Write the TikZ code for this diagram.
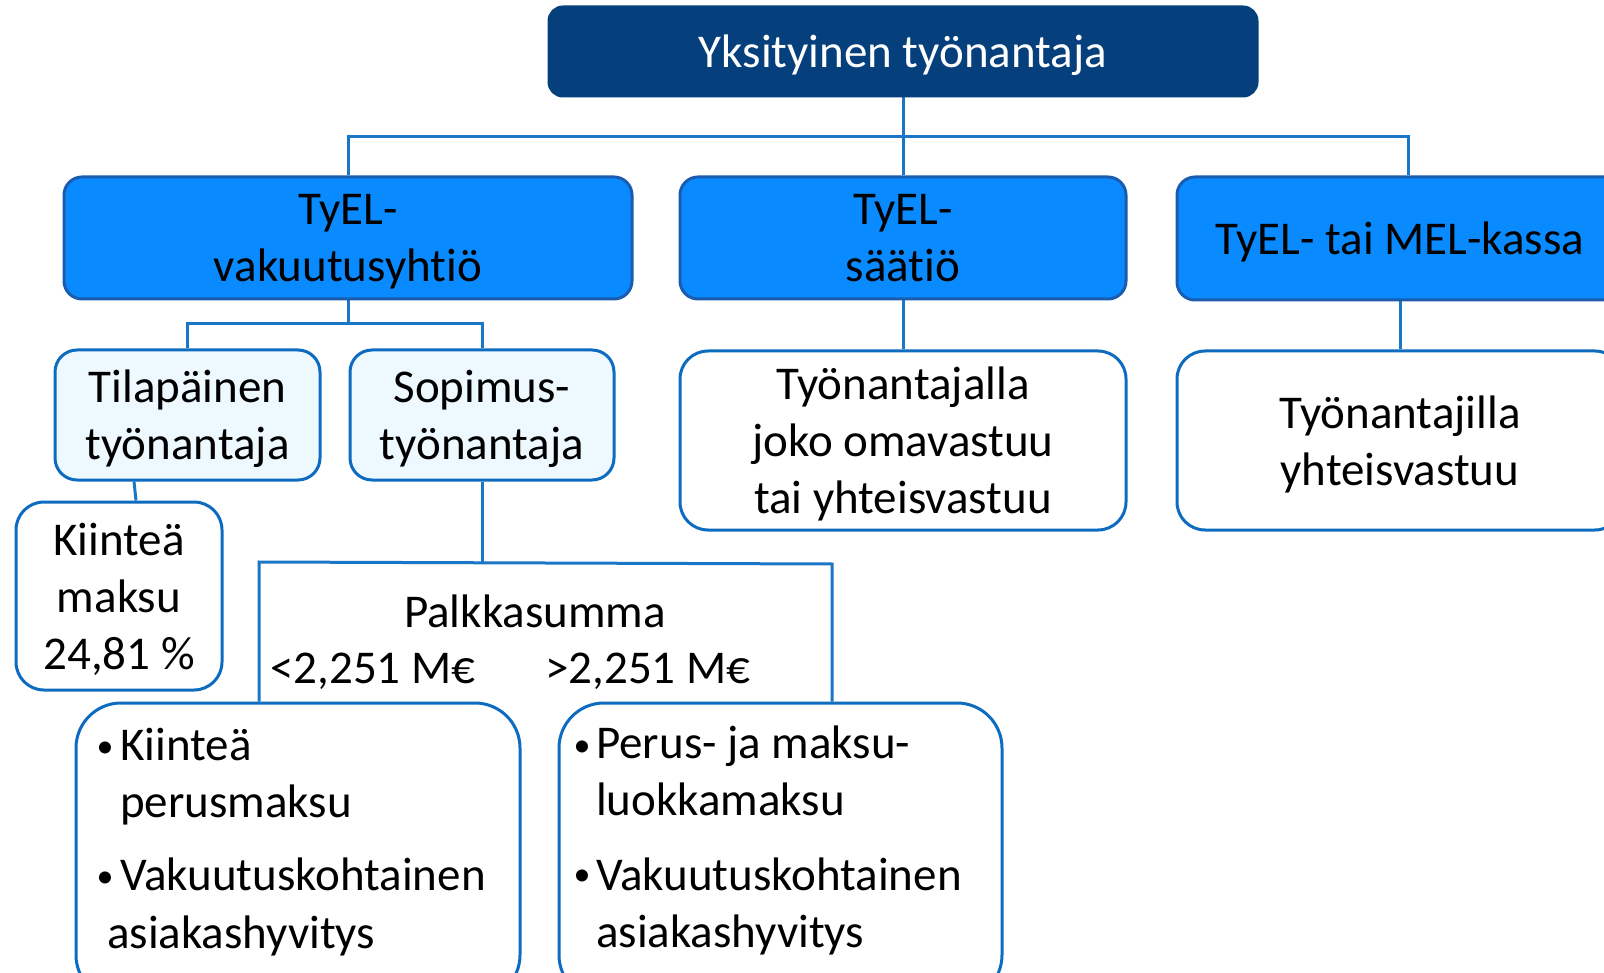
\documentclass[tikz,border=0pt]{standalone}
\usepackage{fontspec}
\setmainfont{Carlito}[Ligatures=NoCommon]
\usetikzlibrary{backgrounds}
\definecolor{navy}{HTML}{06407C}
\definecolor{bright}{HTML}{0A8AFF}
\definecolor{brightborder}{HTML}{1A5CB0}
\definecolor{linec}{HTML}{1A76C6}
\definecolor{lightfill}{HTML}{EEF8FF}
\definecolor{boxborder}{HTML}{0D6CC0}
\begin{document}
\begin{tikzpicture}[x=1pt,y=-1pt,
  basebox/.style={font=\fontsize{47}{57}\selectfont, align=center, inner sep=0pt, line width=3pt, text depth=0pt},
  topbox/.style={basebox, fill=navy, draw=navy, rounded corners=14pt, text=white},
  lvtwo/.style={basebox, fill=bright, draw=brightborder, rounded corners=18pt},
  lvthree/.style={basebox, fill=lightfill, draw=boxborder, rounded corners=22pt},
  whitebox/.style={basebox, fill=white, draw=boxborder, rounded corners=28pt},
  bulletbox/.style={basebox, fill=white, draw=boxborder, rounded corners=45pt},
  conn/.style={draw=linec, line width=3pt},
  txt/.style={font=\fontsize{47}{57}\selectfont, inner sep=0pt, align=left},
  bul/.style={font=\fontsize{34}{40}\selectfont, inner sep=0pt, anchor=base}]
\useasboundingbox (0,0) rectangle (1604,973);
\clip (0,0) rectangle (1604,973);

\node[topbox, minimum width=708pt, minimum height=89pt] (top) at (903,51.5) {Yksityinen työnantaja};
\node[lvtwo, minimum width=568pt, minimum height=122pt] (vak) at (348,238) {TyEL-\\vakuutusyhtiö};
\node[lvtwo, minimum width=446pt, minimum height=122pt] (sat) at (903,238) {TyEL-\\säätiö};
\node[lvtwo, minimum width=446pt, minimum height=123pt] (kas) at (1400,238.5) {TyEL- tai MEL-kassa};

\node[lvthree, minimum width=265pt, minimum height=130pt] (til) at (187.5,415) {Tilapäinen\\työnantaja};
\node[lvthree, minimum width=264pt, minimum height=130pt] (sop) at (482,415) {Sopimus-\\työnantaja};
\node[whitebox, minimum width=206pt, minimum height=188pt] (kiin) at (119,596) {Kiinteä\\maksu\\24,81 \%};
\node[whitebox, minimum width=446pt, minimum height=179pt] (satc) at (903,440.5) {Työnantajalla\\joko omavastuu\\tai yhteisvastuu};
\node[whitebox, minimum width=446pt, minimum height=179pt] (kasc) at (1400,440.5) {Työnantajilla\\yhteisvastuu};

\node[bulletbox, minimum width=444pt, minimum height=297pt] (lb) at (298,851.5) {};
\node[bulletbox, minimum width=443pt, minimum height=297pt] (rb) at (780.5,851.5) {};

\node[txt, anchor=base] (pk) at (535,627) {Palkkasumma};
\node[txt, anchor=base west] (lt) at (270,683) {<2,251 M€};
\node[txt, anchor=base west] (gt) at (545,683) {>2,251 M€};

\node[bul] (lb1b) at (105,757) {•};
\node[txt, anchor=base west] (lb1) at (120,817) {Kiinteä\\perusmaksu};
\node[bul] (lb2b) at (105,887) {•};
\node[txt, anchor=base west] (lb2) at (120,890) {Vakuutuskohtainen};
\node[txt, anchor=base west] (lb3) at (107,948) {asiakashyvitys};

\node[bul] (rb1b) at (582,756) {•};
\node[txt, anchor=base west] (rb1) at (596,815) {Perus- ja maksu-\\luokkamaksu};
\node[bul] (rb2b) at (582,885) {•};
\node[txt, anchor=base west] (rb2) at (596,947) {Vakuutuskohtainen\\asiakashyvitys};

\begin{scope}[on background layer]
\fill[white] (0,0) rectangle (1604,973);
\coordinate (jr) at (1408,137);
\coordinate (sj) at (348,324);
\coordinate (pl) at (259,562);
\coordinate (pr) at (832,564);
\draw[conn] (top.south) -- (sat.north);
\draw[conn] (vak.north) |- (jr) -- (jr |- kas.north);
\draw[conn] (vak.south) -- (sj);
\draw[conn] (til.north) |- (sj) -| (sop.north);
\draw[conn] ([xshift=-53.5pt]til.south) -- ([xshift=17pt]kiin.north);
\draw[conn] (sop.south) -- (sop.south |- pl);
\draw[conn] (pl |- lb.north) -- (pl) -- (pr) -- (pr |- rb.north);
\draw[conn] (sat.south) -- (satc.north);
\draw[conn] (kas.south) -- (kasc.north);
\end{scope}
\end{tikzpicture}
\end{document}
